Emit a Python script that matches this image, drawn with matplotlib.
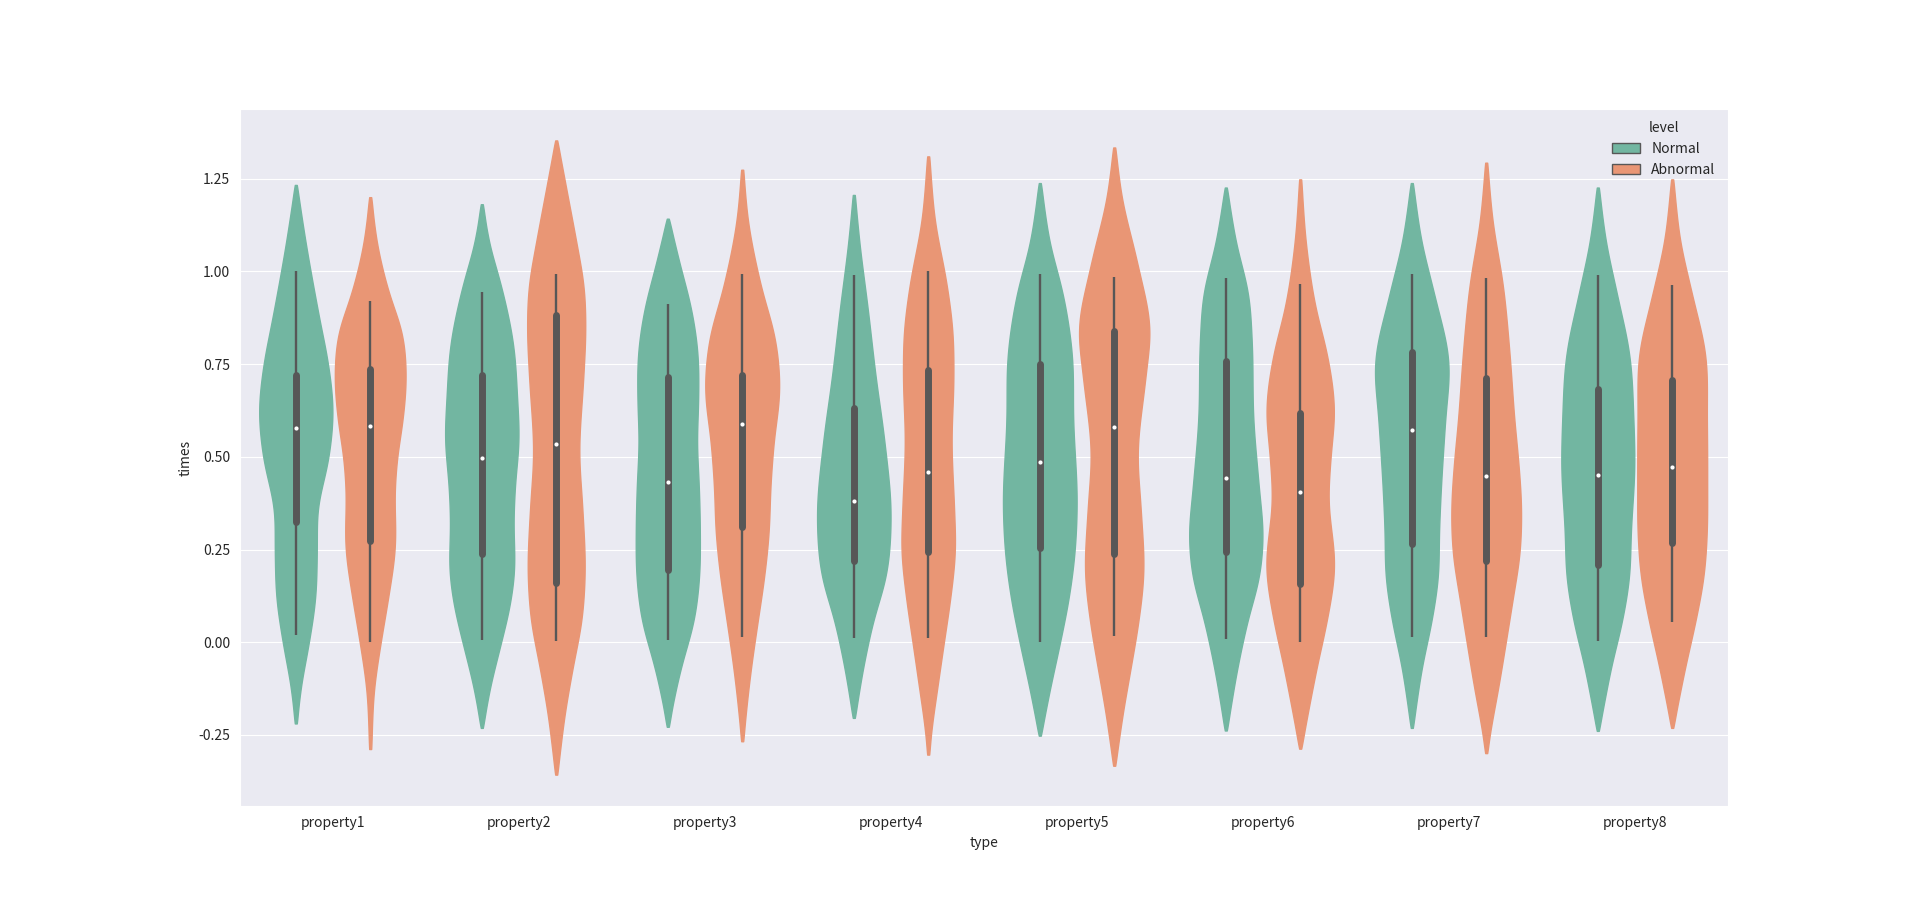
import numpy as np
import matplotlib
matplotlib.use("Agg")
import matplotlib.pyplot as plt
import seaborn as sns
from matplotlib.patches import Patch

categories = ['property1', 'property2', 'property3', 'property4',
              'property5', 'property6', 'property7', 'property8']
levels = ['Normal', 'Abnormal']

# density profiles: heights ("times") and relative density
normal_y = [
    [1.233, 1.079, 0.875, 0.748, 0.623, 0.498, 0.358, 0.248, 0.118, -0.002, -0.123, -0.219],
    [1.181, 1.079, 0.959, 0.803, 0.659, 0.550, 0.418, 0.334, 0.178, 0.094, -0.002, -0.123, -0.231],
    [1.142, 1.019, 0.899, 0.779, 0.659, 0.538, 0.418, 0.298, 0.178, 0.058, -0.063, -0.159, -0.228],
    [1.206, 1.079, 0.899, 0.719, 0.538, 0.334, 0.178, 0.058, -0.063, -0.204],
    [1.238, 1.079, 0.935, 0.779, 0.599, 0.358, 0.238, 0.118, -0.002, -0.123, -0.252],
    [1.226, 1.079, 0.935, 0.815, 0.599, 0.418, 0.286, 0.178, 0.058, -0.063, -0.238],
    [1.238, 1.079, 0.935, 0.755, 0.599, 0.418, 0.298, 0.178, 0.058, -0.063, -0.231],
    [1.226, 1.079, 0.935, 0.779, 0.599, 0.478, 0.298, 0.178, 0.058, -0.063, -0.183, -0.239],
]
normal_d = [
    [3, 30, 72, 100, 114, 101, 67, 65, 60, 40, 15, 3],
    [3, 22, 60, 97, 109, 114, 102, 98, 99, 85, 59, 25, 3],
    [3, 37, 72, 92, 94, 90, 96, 99, 97, 80, 42, 17, 3],
    [3, 17, 43, 67, 95, 114, 99, 60, 30, 3],
    [3, 30, 72, 99, 103, 114, 107, 89, 62, 32, 3],
    [3, 31, 70, 80, 85, 102, 114, 103, 67, 37, 3],
    [3, 30, 70, 114, 103, 90, 84, 81, 61, 32, 3],
    [3, 25, 60, 97, 110, 113, 102, 97, 75, 42, 15, 3],
]
abnormal_y = [
    [1.200, 1.079, 0.935, 0.839, 0.719, 0.599, 0.498, 0.418, 0.248, 0.118, -0.002, -0.123, -0.288],
    [1.353, 1.200, 1.079, 0.959, 0.839, 0.719, 0.502, 0.358, 0.178, 0.058, -0.063, -0.183, -0.357],
    [1.274, 1.139, 0.959, 0.815, 0.683, 0.538, 0.418, 0.298, 0.178, 0.058, -0.063, -0.183, -0.267],
    [1.310, 1.139, 0.959, 0.839, 0.719, 0.538, 0.358, 0.250, 0.118, -0.002, -0.123, -0.243, -0.303],
    [1.334, 1.200, 1.019, 0.839, 0.719, 0.502, 0.358, 0.178, 0.058, -0.063, -0.183, -0.333],
    [1.248, 1.079, 0.899, 0.779, 0.623, 0.502, 0.394, 0.190, 0.058, -0.063, -0.183, -0.287],
    [1.293, 1.139, 0.959, 0.779, 0.599, 0.478, 0.358, 0.238, 0.118, -0.002, -0.123, -0.243, -0.299],
    [1.248, 1.079, 0.935, 0.779, 0.599, 0.418, 0.298, 0.178, 0.058, -0.063, -0.171, -0.231],
]
abnormal_d = [
    [3, 20, 60, 97, 110, 100, 83, 76, 76, 55, 32, 12, 3],
    [3, 36, 62, 85, 90, 84, 71, 81, 88, 78, 52, 28, 3],
    [3, 17, 58, 102, 115, 97, 87, 82, 68, 48, 28, 12, 3],
    [3, 20, 58, 75, 78, 72, 80, 83, 68, 48, 28, 9, 3],
    [3, 23, 72, 110, 97, 72, 82, 90, 75, 52, 28, 3],
    [3, 17, 48, 82, 105, 94, 87, 105, 82, 52, 25, 3],
    [3, 19, 52, 72, 87, 100, 108, 103, 82, 60, 37, 12, 3],
    [3, 25, 62, 102, 107, 108, 107, 97, 72, 41, 16, 3],
]

# box statistics
normal_lo = [0.019, 0.007, 0.007, 0.012, 0.000, 0.010, 0.013, 0.004]
normal_q1 = [0.325, 0.238, 0.196, 0.220, 0.254, 0.243, 0.266, 0.208]
normal_med = [0.578, 0.496, 0.433, 0.382, 0.487, 0.442, 0.573, 0.451]
normal_q3 = [0.721, 0.721, 0.716, 0.631, 0.751, 0.757, 0.782, 0.683]
normal_hi = [1.000, 0.945, 0.911, 0.989, 0.992, 0.981, 0.993, 0.989]
abnormal_lo = [0.000, 0.004, 0.013, 0.012, 0.016, 0.000, 0.013, 0.055]
abnormal_q1 = [0.272, 0.160, 0.310, 0.242, 0.238, 0.156, 0.218, 0.268]
abnormal_med = [0.583, 0.535, 0.588, 0.460, 0.580, 0.406, 0.448, 0.472]
abnormal_q3 = [0.737, 0.883, 0.721, 0.733, 0.839, 0.619, 0.713, 0.707]
abnormal_hi = [0.919, 0.994, 0.992, 1.000, 0.986, 0.965, 0.981, 0.962]

sns.set_style("darkgrid")
plt.rcParams['font.family'] = ['Noto Sans CJK SC', 'DejaVu Sans']
plt.rcParams['axes.unicode_minus'] = False

colors = sns.color_palette("Set2", 2, desat=0.75)
gray = '#575757'


def outline(y, d, n=500, sigma=0.03):
    y = np.asarray(y, float)
    d = np.asarray(d, float)
    order = np.argsort(y)
    y, d = y[order], d[order]
    m = np.gradient(d, y)
    yy = np.linspace(y[0], y[-1], n)
    idx = np.clip(np.searchsorted(y, yy) - 1, 0, len(y) - 2)
    h = y[idx + 1] - y[idx]
    t = (yy - y[idx]) / h
    h00 = 2 * t**3 - 3 * t**2 + 1
    h10 = t**3 - 2 * t**2 + t
    h01 = -2 * t**3 + 3 * t**2
    h11 = t**3 - t**2
    dd = h00 * d[idx] + h10 * h * m[idx] + h01 * d[idx + 1] + h11 * h * m[idx + 1]
    dd = np.clip(dd, 1.5, None)
    # gentle smoothing of the outline
    step = yy[1] - yy[0]
    k = int(3 * sigma / step)
    kern = np.exp(-0.5 * (np.arange(-k, k + 1) * step / sigma) ** 2)
    kern /= kern.sum()
    padded = np.concatenate([np.full(k, dd[0]), dd, np.full(k, dd[-1])])
    sm = np.convolve(padded, kern, mode='valid')
    # keep the thin tips
    wgt = np.clip(np.minimum(yy - yy[0], yy[-1] - yy) / 0.08, 0, 1)
    dd = wgt * sm + (1 - wgt) * dd
    return yy, np.clip(dd, 1.5, None)


fig, ax = plt.subplots(figsize=(19.2, 9.06), dpi=100)

dmax = max(max(max(v) for v in normal_d), max(max(v) for v in abnormal_d))
half = 0.2
offsets = [-0.2, 0.2]

groups = [
    (normal_y, normal_d, normal_lo, normal_q1, normal_med, normal_q3, normal_hi),
    (abnormal_y, abnormal_d, abnormal_lo, abnormal_q1, abnormal_med, abnormal_q3, abnormal_hi),
]

for g, (ys, ds, lo, q1, med, q3, hi) in enumerate(groups):
    for i in range(len(categories)):
        x0 = i + offsets[g]
        yy, dd = outline(ys[i], ds[i])
        w = dd / dmax * half
        ax.fill_betweenx(yy, x0 - w, x0 + w, facecolor=colors[g],
                         edgecolor=colors[g], linewidth=1, zorder=2)
        ax.plot([x0, x0], [lo[i], hi[i]], color=gray, lw=1.7,
                solid_capstyle='butt', zorder=3)
        ax.plot([x0, x0], [q1[i], q3[i]], color=gray, lw=5,
                solid_capstyle='round', zorder=3)
        ax.scatter([x0], [med[i]], s=9, color='white', zorder=4,
                   linewidths=0)

ax.set_xticks(range(len(categories)))
ax.set_xticklabels(categories)
ax.set_xlim(-0.5, len(categories) - 0.5)
ax.xaxis.grid(False)
ax.set_yticks([-0.25, 0.0, 0.25, 0.5, 0.75, 1.0, 1.25])
ax.set_xlabel('type')
ax.set_ylabel('times')

handles = [Patch(facecolor=colors[k], edgecolor=gray, linewidth=1, label=levels[k])
           for k in range(2)]
ax.legend(handles=handles, title='level', loc='upper right', frameon=False)

fig.savefig('out.png', dpi=100)
